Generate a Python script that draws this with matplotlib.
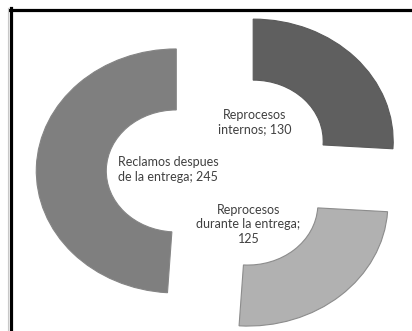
import matplotlib
matplotlib.use("Agg")
import matplotlib.pyplot as plt
from matplotlib.lines import Line2D

# Data
categories = ["Reprocesos\ninternos", "Reprocesos\ndurante la entrega;\n", "Reclamos despues\nde la entrega"]
label_names = ["Reprocesos\ninternos; {}", "Reprocesos\ndurante la entrega;\n{}", "Reclamos despues\nde la entrega; {}"]
values = [130, 125, 245]
colors = ["#5f5f5f", "#b1b1b1", "#7f7f7f"]
edge_colors = ["#5a5a5a", "#8c8c8c", "#858585"]
explode = [0.37, 0.35, 0.28]
# label anchor positions (data units, relative to the pie centre)
label_pos = [(0.28, 0.41), (0.236, -0.43), (-0.34, 0.02)]

W, H = 412, 331
fig = plt.figure(figsize=(W / 100, H / 100), dpi=100)
fig.patch.set_facecolor("white")
ax = fig.add_axes([0, 0, 1, 1])

wedges, _ = ax.pie(
    values,
    colors=colors,
    explode=explode,
    startangle=90,
    counterclock=False,
    radius=1.0,
    wedgeprops=dict(width=0.5, linewidth=0.8),
)
for w, ec in zip(wedges, edge_colors):
    w.set_edgecolor(ec)

# stretched (non-equal) aspect, as in the original spreadsheet chart
ax.set_aspect("auto")
ax.set_xlim(-1.539, 1.404)
ax.set_ylim(-1.303, 1.410)
ax.axis("off")

for name, v, (x, y) in zip(label_names, values, label_pos):
    ax.text(x, y, name.format(v), ha="center", va="center",
            fontsize=9, family="Lato", color="#404040", linespacing=1.25)

# chart frame: top and left rules
fig.add_artist(Line2D([9.5 / W, 1.0], [1 - 9.5 / H, 1 - 9.5 / H],
                      transform=fig.transFigure, color="black", linewidth=2.3))
fig.add_artist(Line2D([10.5 / W, 10.5 / W], [0, 1 - 8 / H],
                      transform=fig.transFigure, color="black", linewidth=2.3))
fig.add_artist(Line2D([8.2 / W, 8.2 / W], [0, 1 - 8 / H],
                      transform=fig.transFigure, color="#c8c8c8", linewidth=0.8))

fig.savefig("out.png", dpi=100, facecolor="white")
